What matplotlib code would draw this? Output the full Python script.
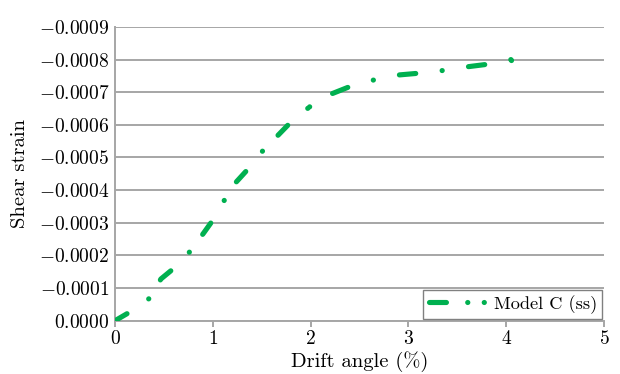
import matplotlib
matplotlib.use("Agg")
import matplotlib.pyplot as plt
from matplotlib.lines import Line2D
from matplotlib.ticker import FuncFormatter

plt.rcParams['font.family'] = 'serif'
plt.rcParams['font.serif'] = ['cmr10']
plt.rcParams['mathtext.fontset'] = 'cm'
plt.rcParams['axes.unicode_minus'] = False
plt.rcParams['lines.scale_dashes'] = False

# drift angle (%) vs shear strain
drift = [0, 0.16, 0.35, 0.47, 0.62, 0.77, 0.91, 1.01, 1.12, 1.24, 1.38, 1.51,
         1.68, 1.81, 1.99, 2.19, 2.40, 2.64, 2.87, 3.10, 3.34, 3.58, 3.82, 4.05]
strain = [0, -0.000028, -0.000068, -0.000128, -0.000165, -0.000213, -0.000270,
          -0.000312, -0.000370, -0.000425, -0.000471, -0.000520, -0.000572,
          -0.000612, -0.000655, -0.000692, -0.000717, -0.000737, -0.000752,
          -0.000758, -0.000766, -0.000777, -0.000786, -0.000800]
label = 'Model C (ss)'

green = '#00B050'
grey = '#a6a6a6'
lw = 3.7

fig = plt.figure(figsize=(6.2, 3.74), dpi=100)
ax = fig.add_axes([0.1855, 0.1425, 0.7885, 0.7855])

# the source figure was stretched, so the dash rhythm differs on the steep
# and on the flat part of the curve -> draw the two parts separately
k = 14
ax.plot(drift[:k + 1], strain[:k + 1], color=green, lw=lw,
        dash_capstyle='round', linestyle=(0, (10.0, 18.9, 0.1, 16.0)), zorder=3)
ax.plot(drift[k:], strain[k:], color=green, lw=lw, dash_capstyle='round',
        linestyle=(0, (0.1, 19.1, 11.8, 19.1)), marker='o', ms=lw, mew=0,
        markevery=[len(drift) - k - 1], zorder=3)

ax.set_xlim(0, 5)
ax.set_ylim(0, -0.0009)
ax.set_xticks([0, 1, 2, 3, 4, 5])
ax.set_yticks([-i * 0.0001 for i in range(10)])

def fmt(v, pos):
    s = '%.4f' % abs(v)
    if v < -1e-9:
        return r'$-%s$' % s
    return r'$%s$' % s

ax.yaxis.set_major_formatter(FuncFormatter(fmt))
ax.xaxis.set_major_formatter(FuncFormatter(lambda v, p: r'$%d$' % v))

ax.grid(axis='y', color=grey, lw=1.4)
ax.set_axisbelow(True)
for side in ['top', 'right']:
    ax.spines[side].set_visible(False)
for side in ['left', 'bottom']:
    ax.spines[side].set_color(grey)
    ax.spines[side].set_linewidth(1.4)

ax.tick_params(axis='y', length=0, pad=4, labelsize=14)
ax.tick_params(axis='x', length=4, width=1.4, color=grey, pad=3, labelsize=14)

ax.set_xlabel('Drift angle (%)', fontsize=14.8, labelpad=2)
ax.set_ylabel('Shear strain', fontsize=14.8, labelpad=7)

handle = Line2D([], [], color=green, lw=lw, dash_capstyle='round',
                linestyle=(0, (12.2, 15.3, 0.1, 11.8, 0.1, 20)))
ax.legend([handle], [label], loc='lower right', bbox_to_anchor=(1, 0),
          fontsize=13.2, handlelength=3.2, handletextpad=0.35, borderpad=0.28,
          borderaxespad=0.1, fancybox=False, framealpha=1, edgecolor='#808080')
leg = ax.get_legend()
leg.get_frame().set_linewidth(1.0)

fig.savefig('out.png', dpi=100)
